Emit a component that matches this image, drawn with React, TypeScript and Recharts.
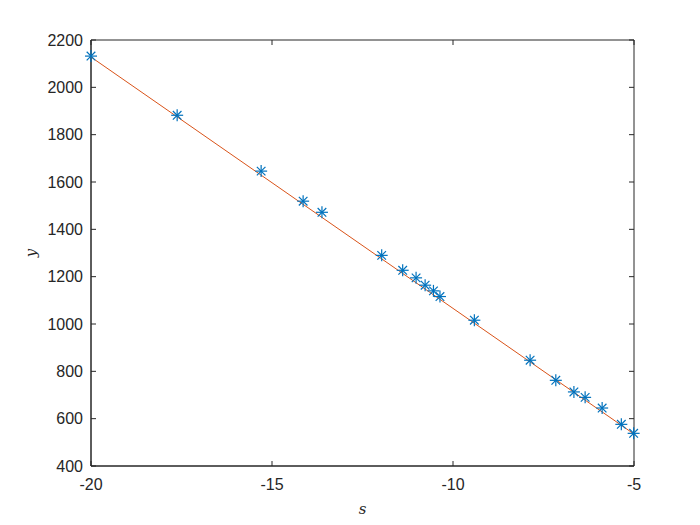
import { ReferenceArea, Scatter, ScatterChart, XAxis, YAxis } from "recharts";

// measured points (s, y)
const sValues = [-20, -17.62, -15.3, -14.14, -13.62, -11.97, -11.39, -11.02, -10.77, -10.54, -10.36, -9.41, -7.87, -7.16, -6.66, -6.35, -5.88, -5.35, -5.01];
const yValues = [2132, 1882, 1646, 1519, 1472, 1290, 1227, 1195, 1164, 1140, 1116, 1016, 847, 762, 713, 690, 645, 576, 538];

// fitted line end points
const fitS = [-20, -5];
const fitY = [2128, 535];

const xTicks = [-20, -15, -10, -5];
const yTicks = [400, 600, 800, 1000, 1200, 1400, 1600, 1800, 2000, 2200];

const points = sValues.map((s, i) => ({ s, y: yValues[i] }));
const fit = fitS.map((s, i) => ({ s, y: fitY[i] }));

const AXIS = "#262626";
const BLUE = "#0072BD";
const ORANGE = "#D95319";
const FONT = "'Liberation Sans', Arial, sans-serif";
const FONT_SIZE = 16;

// plot box edges (from margins + axis sizes)
const TOP = 40;
const BOTTOM = 466;
const LEFT = 91;
const RIGHT = 634;
const TICK = 5;

function XTick(props: any) {
  const { x, y, payload } = props;
  const cx = payload.coordinate;
  return (
    <g>
      <line x1={cx} y1={BOTTOM} x2={cx} y2={BOTTOM - TICK} stroke={AXIS} />
      <line x1={cx} y1={TOP} x2={cx} y2={TOP + TICK} stroke={AXIS} />
      <text x={x} y={y} dy="0.71em" textAnchor="middle" fontSize={FONT_SIZE} fill={AXIS} fontFamily={FONT}>
        {payload.value}
      </text>
    </g>
  );
}

function YTick(props: any) {
  const { x, y, payload } = props;
  const cy = payload.coordinate;
  return (
    <g>
      <line x1={LEFT} y1={cy} x2={LEFT + TICK} y2={cy} stroke={AXIS} />
      <line x1={RIGHT} y1={cy} x2={RIGHT - TICK} y2={cy} stroke={AXIS} />
      <text x={x} y={y} dy="0.355em" textAnchor="end" fontSize={FONT_SIZE} fill={AXIS} fontFamily={FONT}>
        {payload.value}
      </text>
    </g>
  );
}

function Star(props: any) {
  const { cx, cy } = props;
  if (cx == null || cy == null) return null;
  const r = 6;
  const d = 4.3;
  return (
    <g stroke={BLUE} strokeWidth={1.2}>
      <line x1={cx - r} y1={cy} x2={cx + r} y2={cy} />
      <line x1={cx} y1={cy - r} x2={cx} y2={cy + r} />
      <line x1={cx - d} y1={cy - d} x2={cx + d} y2={cy + d} />
      <line x1={cx - d} y1={cy + d} x2={cx + d} y2={cy - d} />
    </g>
  );
}

const labelStyle = { fontFamily: "'DejaVu Serif', 'Liberation Serif', serif", fontStyle: "italic", fontSize: 15, fill: AXIS };

export default function App() {
  return (
    <div style={{ position: "absolute", left: 0, top: 0, width: 700, height: 525, background: "#fff" }}>
      <ScatterChart width={700} height={525} margin={{ top: 40, right: 66, bottom: 19, left: 31 }}>
        <XAxis
          dataKey="s"
          type="number"
          domain={[-20, -5]}
          ticks={xTicks}
          height={40}
          tick={<XTick />}
          tickLine={false}
          tickSize={0}
          tickMargin={13}
          stroke={AXIS}
          label={{ value: "s", position: "insideBottom", offset: -8, style: labelStyle }}
        />
        <YAxis
          dataKey="y"
          type="number"
          domain={[400, 2200]}
          ticks={yTicks}
          width={60}
          tick={<YTick />}
          tickLine={false}
          tickSize={0}
          tickMargin={8}
          stroke={AXIS}
          label={{ value: "y", angle: -90, position: "insideLeft", offset: 0, style: { ...labelStyle, textAnchor: "middle" } }}
        />
        <ReferenceArea x1={-20} x2={-5} y1={400} y2={2200} fill="none" stroke={AXIS} strokeOpacity={1} ifOverflow="visible" />
        <Scatter data={fit} line={{ stroke: ORANGE, strokeWidth: 1 }} shape={() => null} isAnimationActive={false} />
        <Scatter data={points} shape={Star} isAnimationActive={false} />
      </ScatterChart>
    </div>
  );
}
